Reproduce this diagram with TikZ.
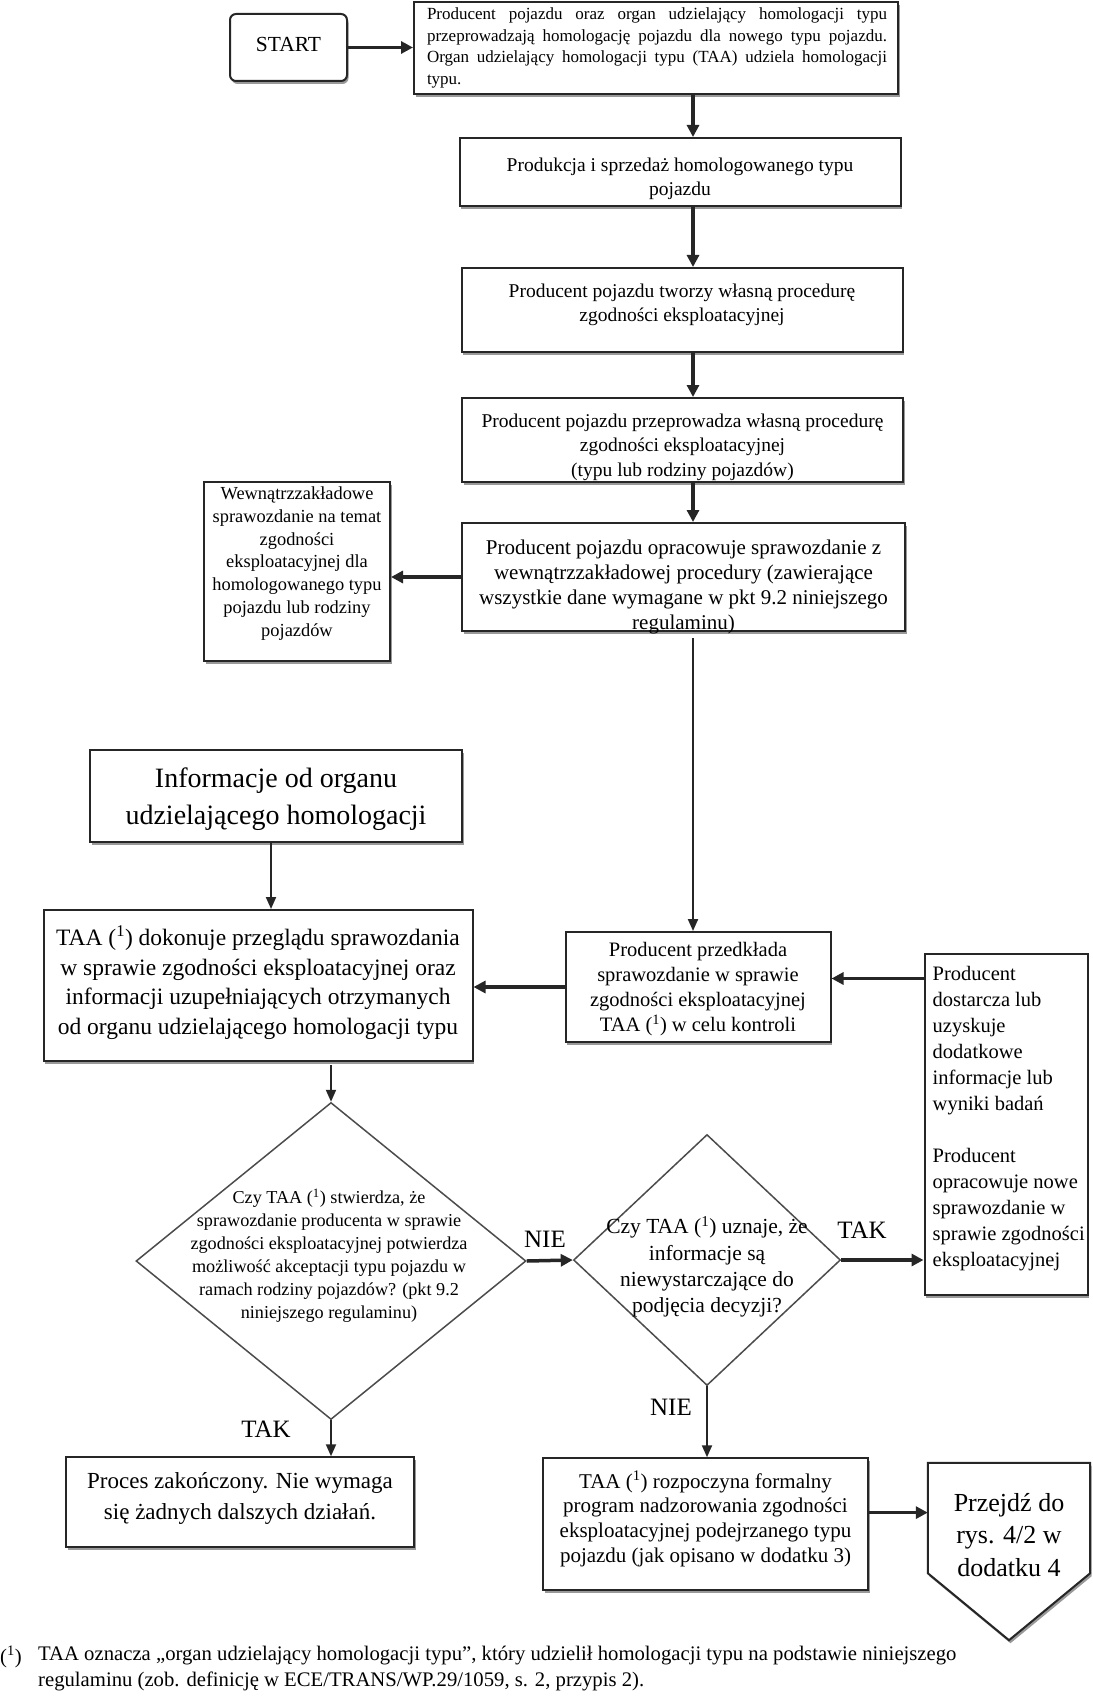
\documentclass[tikz,border=0pt]{standalone}
\usepackage{fontspec}
\setmainfont{Liberation Serif}
\usetikzlibrary{shapes.geometric,shadows,arrows.meta}
\newcommand{\fs}[2]{\fontsize{#1}{#2}\selectfont}
\newcommand{\fnmk}{(\textsuperscript{1})}
\begin{document}
\begin{tikzpicture}[x=1pt,y=-1pt,
  box/.style={draw=black!85, line width=2pt, fill=white, inner sep=0pt,
     drop shadow={shadow xshift=1.5pt, shadow yshift=-3pt, opacity=1, fill=black!40}},
  arr/.style={line width=3.5pt, draw=black!85, -{Triangle[length=12pt,width=12pt]}},
  thinarr/.style={line width=2pt, draw=black!85, -{Triangle[length=12pt,width=10pt]}},
  dia/.style={draw=black!70, line width=1.5pt, diamond, inner sep=0pt},
  lab/.style={font=\fs{25}{28}, inner sep=0pt},
  txt/.style={align=center, inner sep=0pt},
]
\useasboundingbox (0,0) rectangle (1092,1696);
\fill[white] (0,0) rectangle (1092,1696);

% boxes
\node[box, rounded corners=6pt, minimum width=117pt, minimum height=67pt] (start) at (288.5,47.5) {};
\node[txt, font=\fs{21.5}{26}] (startt) at ([yshift=3pt]start.center) {START};

\node[box, minimum width=484pt, minimum height=92pt] (t1) at (656,48) {};
\node[txt, align=left, font=\fs{17}{21.6}] (t1t) at ([xshift=1pt]t1.center)
  {\makebox[460pt][s]{Producent pojazdu oraz organ udzielający homologacji typu}\\
   \makebox[460pt][s]{przeprowadzają homologację pojazdu dla nowego typu pojazdu.}\\
   \makebox[460pt][s]{Organ udzielający homologacji typu (TAA) udziela homologacji}\\
   typu.};

\node[box, minimum width=441pt, minimum height=68pt] (p1) at (680,172) {};
\node[txt, font=\fs{19.5}{24.5}] (p1t) at ([yshift=-7pt]p1.center)
  {Produkcja i sprzedaż homologowanego typu\\pojazdu};

\node[box, minimum width=441pt, minimum height=84pt] (p2) at (682,310) {};
\node[txt, font=\fs{19.5}{24.5}] (p2t) at ([yshift=5pt]p2.center)
  {Producent pojazdu tworzy własną procedurę\\zgodności eksploatacyjnej};

\node[box, minimum width=441pt, minimum height=84pt] (p3) at (682.5,440) {};
\node[txt, font=\fs{19.5}{24.5}] (p3t) at ([yshift=-7pt]p3.center)
  {Producent pojazdu przeprowadza własną procedurę\\zgodności eksploatacyjnej\\(typu lub rodziny pojazdów)};

\node[box, minimum width=443pt, minimum height=108pt] (p4) at (683.5,577) {};
\node[txt, font=\fs{21}{24.8}] (p4t) at ([yshift=-10pt]p4.center)
  {Producent pojazdu opracowuje sprawozdanie z\\wewnątrzzakładowej procedury (zawierające\\wszystkie dane wymagane w pkt 9.2 niniejszego\\regulaminu)};

\node[box, minimum width=186pt, minimum height=179pt] (w) at (297,571.5) {};
\node[txt, font=\fs{18.4}{22.7}] (wt) at ([yshift=8pt]w.center)
  {Wewnątrzzakładowe\\sprawozdanie na temat\\zgodności\\eksploatacyjnej dla\\homologowanego typu\\pojazdu lub rodziny\\pojazdów};

\node[box, minimum width=372pt, minimum height=92pt] (info) at (276,796) {};
\node[txt, font=\fs{28}{36.8}] (infot) at ([yshift=-3pt]info.center)
  {Informacje od organu\\udzielającego homologacji};

\node[box, minimum width=429pt, minimum height=151pt] (taa) at (258,985.5) {};
\node[txt, font=\fs{23.5}{29.5}] (taat) at ([yshift=3pt]taa.center)
  {TAA \fnmk{} dokonuje przeglądu sprawozdania\\w sprawie zgodności eksploatacyjnej oraz\\informacji uzupełniających otrzymanych\\od organu udzielającego homologacji typu};

\node[box, minimum width=265pt, minimum height=110pt] (pp) at (698,987) {};
\node[txt, font=\fs{20.5}{25.2}] (ppt) at ([yshift=-2pt]pp.center)
  {Producent przedkłada\\sprawozdanie w sprawie\\zgodności eksploatacyjnej\\TAA \fnmk{} w celu kontroli};

\node[box, minimum width=163pt, minimum height=341pt] (r) at (1006,1124) {};
\node[txt, align=left, anchor=west, font=\fs{20.5}{26}] (rt) at ([xshift=9pt,yshift=5pt]r.west)
  {Producent\\dostarcza lub\\uzyskuje\\dodatkowe\\informacje lub\\wyniki badań\\[26pt]Producent\\opracowuje nowe\\sprawozdanie w\\sprawie zgodności\\eksploatacyjnej};

% decisions
\node[dia, minimum width=390pt, minimum height=317pt] (d1) at (331,1261) {};
\node[txt, font=\fs{18.2}{23}] (d1t) at (329,1256)
  {Czy TAA \fnmk{} stwierdza, że\\sprawozdanie producenta w sprawie\\zgodności eksploatacyjnej potwierdza\\możliwość akceptacji typu pojazdu w\\ramach rodziny pojazdów? (pkt 9.2\\niniejszego regulaminu)};
\node[dia, minimum width=267pt, minimum height=251pt] (d2) at (707,1260) {};
\node[txt, font=\fs{21.5}{26.3}] (d2t) at (707,1267)
  {Czy TAA \fnmk{} uznaje, że\\informacje są\\niewystarczające do\\podjęcia decyzji?};

% end boxes
\node[box, minimum width=348pt, minimum height=89.5pt] (proc) at (240,1502) {};
\node[txt, font=\fs{23}{31}] (proct) at ([yshift=4pt]proc.center)
  {Proces zakończony. Nie wymaga\\się żadnych dalszych działań.};

\node[box, minimum width=325pt, minimum height=131.5pt] (taa2) at (705.5,1524) {};
\node[txt, font=\fs{21}{24.8}] (taa2t) at ([yshift=5pt]taa2.center)
  {TAA \fnmk{} rozpoczyna formalny\\program nadzorowania zgodności\\eksploatacyjnej podejrzanego typu\\pojazdu (jak opisano w dodatku 3)};

\node[minimum width=162pt, minimum height=110pt, inner sep=0pt] (prz) at (1009,1518) {};
\draw[line width=2pt, draw=black!85, fill=white,
      drop shadow={shadow xshift=1.5pt, shadow yshift=-3pt, opacity=1, fill=black!40}]
  (prz.north west) -- (prz.north east) -- (prz.south east) -- ([yshift=-67pt]prz.south) -- (prz.south west) -- cycle;
\node[txt, font=\fs{26}{32.4}] (przt) at (1009,1535) {Przejdź do\\rys. 4/2 w\\dodatku 4};

% connectors
\coordinate (ax) at (693,0);
\coordinate (bx) at (271,0);
\coordinate (cy) at (0,978.5);
\coordinate (cy2) at (0,1512.6);
\draw[arr] (start.east) -- (start.east -| t1.west);
\draw[arr] (t1.south -| ax) -- (p1.north -| ax);
\draw[arr] (p1.south -| ax) -- (p2.north -| ax);
\draw[arr] (p2.south -| ax) -- (p3.north -| ax);
\draw[arr] (p3.south -| ax) -- (p4.north -| ax);
\draw[arr] (p4.west) -- (p4.west -| w.east);
\draw[thinarr, shorten <=6pt] (p4.south -| ax) -- (pp.north -| ax);
\draw[thinarr] (info.south -| bx) -- (taa.north -| bx);
\draw[arr] (pp.west) -- (pp.west -| taa.east);
\draw[arr] (r.west |- cy) -- (pp.east |- cy);
\draw[thinarr, shorten <=3pt] (taa.south -| d1.north) -- (d1.north);
\draw[arr] (d1.east) -- (d2.west);
\draw[arr] (d2.east) -- (d2.east -| r.west);
\draw[thinarr] (d1.south) -- (d1.south |- proc.north);
\draw[thinarr] (d2.south) -- (d2.south |- taa2.north);
\draw[arr] (taa2.east |- cy2) -- (prz.west |- cy2);

% labels
\node[lab] (nie1) at (545,1239) {NIE};
\node[lab] (tak1) at (862,1230) {TAK};
\node[lab] (tak2) at (266,1429) {TAK};
\node[lab] (nie2) at (671,1407) {NIE};

% footnote
\node[anchor=north west, inner sep=0pt, font=\fs{20.7}{26}] (fnm) at (0,1646) {\fnmk};
\node[anchor=north west, inner sep=0pt, font=\fs{20.7}{26}, align=left] (fnt) at (38,1646)
  {TAA oznacza „organ udzielający homologacji typu”, który udzielił homologacji typu na podstawie niniejszego\\regulaminu (zob. definicję w ECE/TRANS/WP.29/1059, s. 2, przypis 2).};
\end{tikzpicture}
\end{document}
